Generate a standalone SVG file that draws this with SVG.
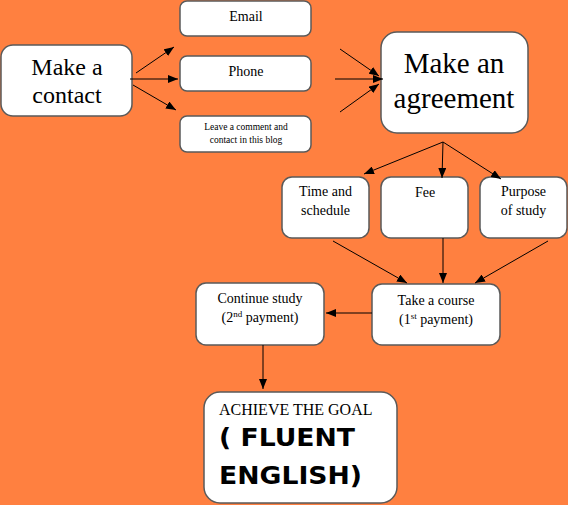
<svg xmlns="http://www.w3.org/2000/svg" width="568" height="505" viewBox="0 0 568 505">
<defs>
<marker id="ah" markerUnits="userSpaceOnUse" markerWidth="10" markerHeight="8" refX="10" refY="4" orient="auto">
<path d="M0,0 L10,4 L0,8 z" fill="#000"/>
</marker>
<style>
.box{fill:#fff;stroke:#5a5a5a;stroke-width:1.5}
.t{font-family:"Liberation Serif","Times New Roman",serif;fill:#000;text-anchor:middle}
.b{font-family:"DejaVu Sans","Liberation Sans",Arial,sans-serif;font-weight:bold;fill:#000}
.c line{stroke:#000;stroke-width:1;marker-end:url(#ah)}
</style>
</defs>
<rect width="568" height="505" fill="#FF8040"/>
<g id="contact"><rect class="box" x="1" y="45" width="131" height="71" rx="12"/>
<text class="t" x="67" y="75" font-size="24">Make a</text><text class="t" x="67" y="103" font-size="24">contact</text></g>
<g id="email"><rect class="box" x="180" y="1" width="131" height="35" rx="7"/>
<text class="t" x="246" y="21" font-size="14">Email</text></g>
<g id="phone"><rect class="box" x="180" y="56" width="131" height="35" rx="7"/>
<text class="t" x="246" y="76" font-size="14">Phone</text></g>
<g id="blog"><rect class="box" x="180" y="116" width="131" height="36" rx="7"/>
<text class="t" x="246" y="130" font-size="9.5">Leave a comment and</text><text class="t" x="246" y="143" font-size="9.5">contact in this blog</text></g>
<g id="agreement"><rect class="box" x="381" y="32" width="147" height="101" rx="16"/>
<text class="t" x="454" y="73" font-size="29">Make an</text><text class="t" x="454" y="108" font-size="29">agreement</text></g>
<g id="time"><rect class="box" x="282" y="177" width="87" height="61" rx="10"/>
<text class="t" x="325.5" y="196" font-size="14">Time and</text><text class="t" x="325.5" y="215" font-size="14">schedule</text></g>
<g id="fee"><rect class="box" x="381" y="177" width="87" height="61" rx="10"/>
<text class="t" x="425" y="197" font-size="14">Fee</text></g>
<g id="purpose"><rect class="box" x="480" y="177" width="87" height="61" rx="10"/>
<text class="t" x="523.5" y="196" font-size="14">Purpose</text><text class="t" x="523.5" y="215" font-size="14">of study</text></g>
<g id="course"><rect class="box" x="372" y="284" width="128" height="61" rx="10"/>
<text class="t" x="436" y="305" font-size="14">Take a course</text>
<text class="t" x="436" y="324" font-size="14">(1<tspan font-size="9" dy="-5">st</tspan><tspan dy="5"> payment)</tspan></text></g>
<g id="continue"><rect class="box" x="196" y="283" width="128" height="62" rx="10"/>
<text class="t" x="260" y="303" font-size="14">Continue study</text>
<text class="t" x="260" y="322" font-size="14">(2<tspan font-size="9" dy="-5">nd</tspan><tspan dy="5">  payment)</tspan></text></g>
<g id="goal"><rect class="box" x="204" y="392" width="193" height="111" rx="16"/>
<text class="t" x="219" y="415" font-size="16" style="text-anchor:start">ACHIEVE THE GOAL</text>
<text class="b" x="219" y="446" font-size="24" textLength="136" lengthAdjust="spacingAndGlyphs">( FLUENT</text>
<text class="b" x="219" y="484" font-size="24" textLength="143" lengthAdjust="spacingAndGlyphs">ENGLISH)</text></g>
<g id="connectors" class="c">
<line x1="136" y1="73" x2="174" y2="47"/>
<line x1="130" y1="79" x2="178" y2="79"/>
<line x1="133" y1="85" x2="176" y2="110"/>
<line x1="340" y1="49" x2="379" y2="76"/>
<line x1="335" y1="79" x2="383" y2="79"/>
<line x1="340" y1="112" x2="379" y2="84"/>
<line x1="443" y1="142" x2="364" y2="174"/>
<line x1="443" y1="142" x2="442" y2="178"/>
<line x1="443" y1="142" x2="501" y2="179"/>
<line x1="333" y1="241" x2="407" y2="283"/>
<line x1="443" y1="238" x2="443" y2="283"/>
<line x1="548" y1="241" x2="475" y2="283"/>
<line x1="372" y1="313" x2="326" y2="313"/>
<line x1="263" y1="345" x2="263" y2="389"/>
</g>
</svg>
